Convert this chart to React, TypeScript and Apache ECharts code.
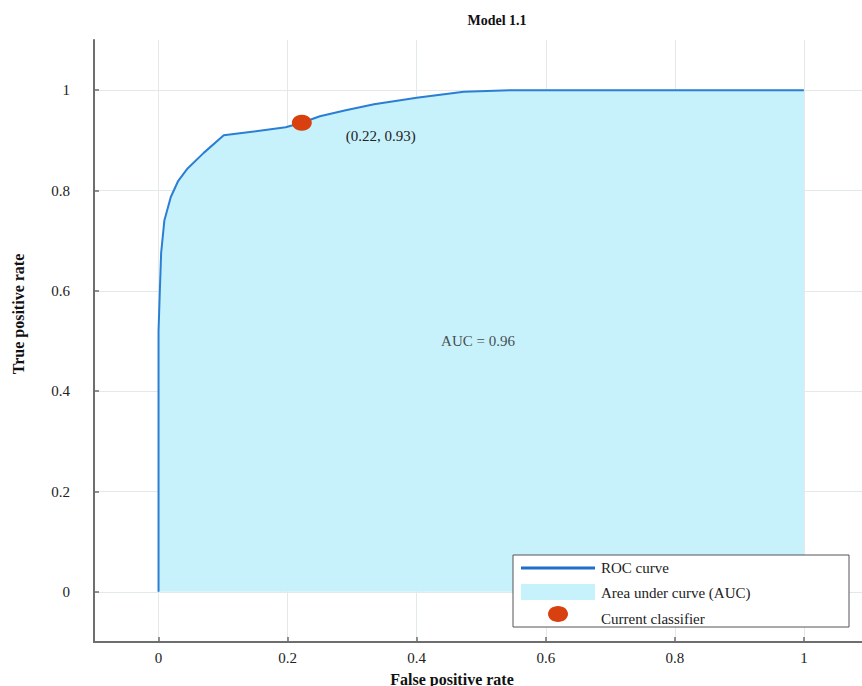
import React, { useEffect, useRef } from "react";
import * as echarts from "echarts";

// ROC curve points
const fpr = [0, 0, 0.002, 0.004, 0.009, 0.019, 0.03, 0.045, 0.07, 0.101, 0.197, 0.222, 0.25, 0.29, 0.334, 0.4, 0.473, 0.55, 0.6, 1];
const tpr = [0, 0.52, 0.6, 0.675, 0.74, 0.787, 0.818, 0.844, 0.875, 0.91, 0.926, 0.935, 0.948, 0.96, 0.972, 0.985, 0.997, 1, 1, 1];
const classifierPoint = [0.222, 0.935];
const classifierLabel = "(0.22, 0.93)";
const aucPoint = [0.495, 0.5];
const aucLabel = "AUC = 0.96";
const tickValues = [0, 0.2, 0.4, 0.6, 0.8, 1];
const titleText = "Model 1.1";
const xName = "False positive rate";
const yName = "True positive rate";
const legendNames = ["ROC curve", "Area under curve (AUC)", "Current classifier"];

export default function App() {
  const ref = useRef<HTMLDivElement>(null);
  useEffect(() => {
    const chart = echarts.init(ref.current!, null, { renderer: "svg" });
    const serif = "'Liberation Serif', 'DejaVu Serif', serif";
    const axisColor = "#6e6e6e";
    const gridColor = "#e3e8e8";
    const lineColor = "#2a7fd4";
    const areaColor = "#c7f1fb";
    const dotColor = "#d9400f";
    const textColor = "#222";
    const roc = fpr.map((x, i) => [x, tpr[i]]);
    const axisCommon = (labelMargin: number) => ({
      type: "value",
      min: -0.1,
      axisLine: { show: true, onZero: false, lineStyle: { color: axisColor, width: 2 } },
      axisTick: { show: true, inside: true, length: 5, customValues: tickValues, lineStyle: { color: axisColor, width: 1.5 } },
      axisLabel: {
        customValues: tickValues,
        margin: labelMargin,
        color: textColor,
        fontFamily: serif,
        fontSize: 15,
        formatter: (v: number) => String(v),
      },
      splitLine: { show: true, lineStyle: { color: gridColor, width: 1 } },
    });
    const L = 100;
    chart.setOption({
      animation: false,
      backgroundColor: "#fff",
      grid: { left: 94, right: 0, top: 40, bottom: 44 },
      xAxis: { ...axisCommon(8), max: 1.09 },
      yAxis: { ...axisCommon(24), max: 1.1 },
      series: [
        {
          name: legendNames[0],
          type: "line",
          data: roc,
          symbol: "none",
          smooth: false,
          lineStyle: { color: lineColor, width: 2 },
          areaStyle: { color: areaColor, opacity: 1, origin: 0 },
          z: 2,
        },
        {
          name: legendNames[2],
          type: "scatter",
          data: [classifierPoint],
          symbol: "circle",
          symbolSize: [20, 16],
          itemStyle: { color: dotColor, opacity: 1 },
          label: {
            show: true,
            position: "inside",
            offset: [79, 13],
            formatter: classifierLabel,
            color: textColor,
            fontFamily: serif,
            fontSize: 15,
          },
          z: 5,
        },
        {
          type: "scatter",
          data: [aucPoint],
          symbolSize: 0,
          silent: true,
          label: {
            show: true,
            position: "inside",
            formatter: aucLabel,
            color: textColor,
            fontFamily: serif,
            fontSize: 15,
          },
          z: 5,
        },
      ],
      graphic: [
        {
          type: "text",
          x: 497,
          y: 20,
          style: { text: titleText, font: `bold 14px ${serif}`, fill: "#111", textAlign: "center", textVerticalAlign: "middle" },
        },
        {
          type: "text",
          x: 452,
          y: 679,
          style: { text: xName, font: `bold 16px ${serif}`, fill: "#111", textAlign: "center", textVerticalAlign: "middle" },
        },
        {
          type: "text",
          x: 18,
          y: 314,
          rotation: Math.PI / 2,
          style: { text: yName, font: `bold 16px ${serif}`, fill: "#111", textAlign: "center", textVerticalAlign: "middle" },
        },
        {
          type: "rect",
          z: L,
          shape: { x: 513, y: 555, width: 336, height: 72 },
          style: { fill: "#fff", stroke: "#555", lineWidth: 1 },
        },
        {
          type: "line",
          z: L + 1,
          shape: { x1: 521, y1: 568, x2: 595, y2: 568 },
          style: { stroke: "#1f6fc6", lineWidth: 3 },
        },
        {
          type: "rect",
          z: L + 1,
          shape: { x: 521, y: 584, width: 74, height: 16 },
          style: { fill: areaColor },
        },
        {
          type: "ellipse",
          z: L + 1,
          shape: { cx: 558, cy: 614, rx: 10, ry: 8 },
          style: { fill: dotColor },
        },
        {
          type: "text",
          z: L + 1,
          x: 601,
          y: 568,
          style: { text: legendNames[0], font: `15px ${serif}`, fill: textColor, textVerticalAlign: "middle" },
        },
        {
          type: "text",
          z: L + 1,
          x: 601,
          y: 593,
          style: { text: legendNames[1], font: `15px ${serif}`, fill: textColor, textVerticalAlign: "middle" },
        },
        {
          type: "text",
          z: L + 1,
          x: 601,
          y: 619,
          style: { text: legendNames[2], font: `15px ${serif}`, fill: textColor, textVerticalAlign: "middle" },
        },
      ],
    });
    return () => chart.dispose();
  }, []);
  return <div ref={ref} style={{ position: "fixed", left: 0, top: 0, width: 862, height: 686 }} />;
}
